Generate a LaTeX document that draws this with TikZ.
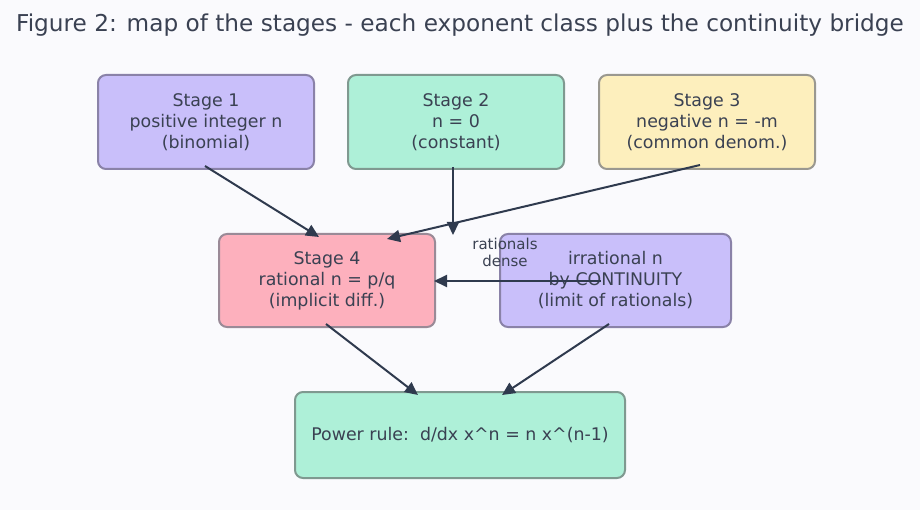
\documentclass[tikz,border=0pt]{standalone}
\usepackage{fontspec}
\setmainfont{DejaVu Sans}
\usetikzlibrary{arrows.meta}
\definecolor{bg}{HTML}{FAFAFD}
\definecolor{txt}{HTML}{3A4152}
\definecolor{arr}{HTML}{2F3A4E}
\definecolor{lav}{HTML}{C9BFFA}
\definecolor{lavb}{HTML}{8A82A8}
\definecolor{mint}{HTML}{AEF0D8}
\definecolor{mintb}{HTML}{7F9990}
\definecolor{cream}{HTML}{FDEFBD}
\definecolor{creamb}{HTML}{9A9890}
\definecolor{pink}{HTML}{FDB0BD}
\definecolor{pinkb}{HTML}{9A8A97}
\tikzset{
  box/.style={draw, line width=2pt, rounded corners=8pt, align=center, text=txt,
    font=\fontsize{17.4}{21}\selectfont, inner sep=0pt},
  conn/.style={draw=arr, line width=2pt, -{Triangle[length=13pt,width=12pt]}},
}
\begin{document}
\begin{tikzpicture}[x=1pt,y=-1pt]
\fill[bg] (0,0) rectangle (920,510);
\useasboundingbox (0,0) rectangle (920,510);
\node[text=txt, font=\fontsize{23.2}{26}\selectfont] (title) at (460,25) {Figure 2: map of the stages - each exponent class plus the continuity bridge};
\node[box, fill=lav, draw=lavb, minimum width=216pt, minimum height=94pt] (s1) at (206,122) {Stage 1\\positive integer n\\(binomial)};
\node[box, fill=mint, draw=mintb, minimum width=216pt, minimum height=94pt] (s2) at (456,122) {Stage 2\\n = 0\\(constant)};
\node[box, fill=cream, draw=creamb, minimum width=216pt, minimum height=94pt] (s3) at (707,122) {Stage 3\\negative n = -m\\(common denom.)};
\node[box, fill=pink, draw=pinkb, minimum width=216pt, minimum height=93pt] (s4) at (327,280.5) {Stage 4\\rational n = p/q\\(implicit diff.)};
\node[box, fill=lav, draw=lavb, minimum width=231pt, minimum height=93pt] (irr) at (615.5,280.5) {irrational n\\by CONTINUITY\\(limit of rationals)};
\node[box, fill=mint, draw=mintb, minimum width=330pt, minimum height=86pt] (pr) at (460,435) {Power rule:\ \ d/dx x\^{}n = n x\^{}(n-1)};
\node[text=txt, align=center, font=\fontsize{15}{17}\selectfont] (lab) at (505,252) {rationals\\dense};
\coordinate (a1) at (205,166);
\coordinate (a1e) at (319,237);
\coordinate (a2) at (453,167);
\coordinate (a2e) at (453,235);
\coordinate (a3) at (700,165);
\coordinate (a3e) at (387,239);
\coordinate (a4) at (601,281);
\coordinate (a4e) at (434,281);
\coordinate (a5) at (326,324);
\coordinate (a5e) at (418,395);
\coordinate (a6) at (609,324);
\coordinate (a6e) at (502,395);
\draw[conn] (a1) -- (a1e);
\draw[conn] (a2) -- (a2e);
\draw[conn] (a3) -- (a3e);
\draw[conn] (a4) -- (a4e);
\draw[conn] (a5) -- (a5e);
\draw[conn] (a6) -- (a6e);
\end{tikzpicture}
\end{document}
